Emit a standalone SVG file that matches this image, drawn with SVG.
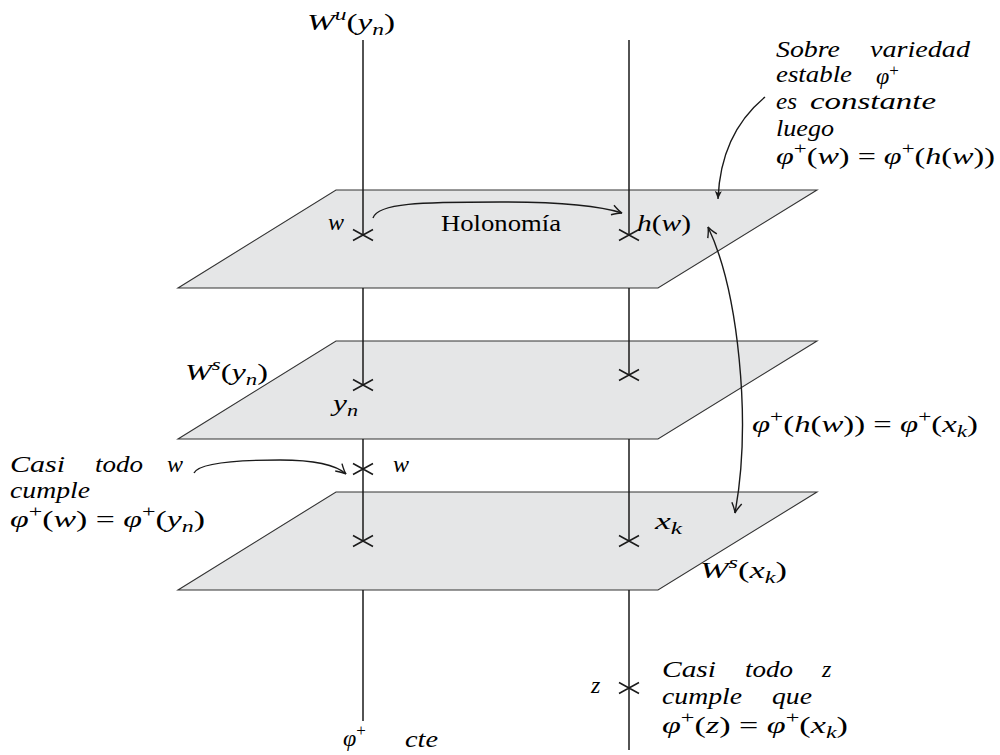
<svg xmlns="http://www.w3.org/2000/svg" width="1000" height="755" viewBox="0 0 1000 755">
<style>
.plane{fill:#e5e6e7;stroke:#333;stroke-width:1.1}
.ln{stroke:#1a1a1a;stroke-width:1.5;fill:none}
.x{stroke:#1a1a1a;stroke-width:1.5;fill:none}
.arr{stroke:#1a1a1a;stroke-width:1.4;fill:none}
.m{font-family:"Liberation Serif","Times New Roman",serif;font-size:24px;font-style:italic;fill:#000}
.r{font-style:normal}
.sup{font-style:normal;font-size:17px}
.sub{font-size:17px}
</style>
<defs>
<marker id="open" markerUnits="userSpaceOnUse" markerWidth="20" markerHeight="20" refX="0" refY="0" orient="auto-start-reverse" overflow="visible">
<path d="M-10,-5 C-6,-2.5 -2.5,-0.6 0,0 C-2.5,0.6 -6,2.5 -10,5" fill="none" stroke="#1a1a1a" stroke-width="1.4"/>
</marker>
<marker id="solid" markerUnits="userSpaceOnUse" markerWidth="20" markerHeight="20" refX="0" refY="0" orient="auto" overflow="visible">
<path d="M-8,-3.5 L0,0 L-8,3.5 L-6,0 Z" fill="#1a1a1a"/>
</marker>
</defs>

<g id="plane1"><polygon class="plane" points="336,190 817,190 658,288 178,288"/></g>
<g id="plane2"><polygon class="plane" points="336,341 817,341 658,439 178,439"/></g>
<g id="plane3"><polygon class="plane" points="336,492 817,492 658,590 178,590"/></g>

<g id="connectors">
<g id="Wu-left">
<line class="ln" x1="363" y1="40" x2="363" y2="235"/>
<line class="ln" x1="363" y1="288" x2="363" y2="385"/>
<line class="ln" x1="363" y1="439" x2="363" y2="541"/>
<line class="ln" x1="363" y1="590" x2="363" y2="721"/>
</g>
<g id="Wu-right">
<line class="ln" x1="629" y1="40" x2="629" y2="235"/>
<line class="ln" x1="629" y1="288" x2="629" y2="375"/>
<line class="ln" x1="629" y1="439" x2="629" y2="541"/>
<line class="ln" x1="629" y1="590" x2="629" y2="750"/>
</g>
<path class="arr" d="M373,218 C378,203 420,202 500,202 C560,202 600,206 622,213" marker-end="url(#open)"/>
<path class="arr" d="M765,97 C742,116 720,148 718,199" marker-end="url(#solid)"/>
<path class="arr" d="M708,227 C738,290 752,420 735,513" marker-start="url(#open)" marker-end="url(#open)"/>
<path class="arr" d="M194,473 C200,461 250,460 280,460 C310,460 335,464 346,474" marker-end="url(#open)"/>
</g>

<g id="crosses">
<path class="x" d="M353,229.5 L373,240.5 M353,240.5 L373,229.5"/>
<path class="x" d="M619,229.5 L639,240.5 M619,240.5 L639,229.5"/>
<path class="x" d="M353,379.5 L373,390.5 M353,390.5 L373,379.5"/>
<path class="x" d="M619,369.5 L639,380.5 M619,380.5 L639,369.5"/>
<path class="x" d="M353,463.5 L373,474.5 M353,474.5 L373,463.5"/>
<path class="x" d="M353,535.5 L373,546.5 M353,546.5 L373,535.5"/>
<path class="x" d="M619,535.5 L639,546.5 M619,546.5 L639,535.5"/>
<path class="x" d="M619,682.5 L639,693.5 M619,693.5 L639,682.5"/>
</g>

<g id="labels">
<text class="m" x="307" y="30" textLength="88" lengthAdjust="spacingAndGlyphs">W<tspan class="sub" dy="-10">u</tspan><tspan class="r" dy="10">(</tspan>y<tspan class="sub" dy="5">n</tspan><tspan class="r" dy="-5">)</tspan></text>

<text class="m" x="776" y="57" textLength="64" lengthAdjust="spacingAndGlyphs">Sobre</text>
<text class="m" x="870" y="57" textLength="100" lengthAdjust="spacingAndGlyphs">variedad</text>
<text class="m" x="776" y="82" textLength="76" lengthAdjust="spacingAndGlyphs">estable</text>
<text class="m" x="876" y="84">φ<tspan class="sup" dy="-8">+</tspan></text>
<text class="m" x="776" y="109" textLength="21" lengthAdjust="spacingAndGlyphs">es</text>
<text class="m" x="810" y="109" textLength="126" lengthAdjust="spacingAndGlyphs">constante</text>
<text class="m" x="776" y="136" textLength="58" lengthAdjust="spacingAndGlyphs">luego</text>
<text class="m" x="776" y="164" textLength="219" lengthAdjust="spacingAndGlyphs">φ<tspan class="sup" dy="-10">+</tspan><tspan class="r" dy="10">(</tspan>w<tspan class="r">) = </tspan>φ<tspan class="sup" dy="-10">+</tspan><tspan class="r" dy="10">(</tspan>h<tspan class="r">(</tspan>w<tspan class="r">))</tspan></text>

<text class="m" x="328" y="230">w</text>
<text class="m r" x="441" y="231" textLength="120" lengthAdjust="spacingAndGlyphs">Holonomía</text>
<text class="m" x="637" y="231" textLength="54" lengthAdjust="spacingAndGlyphs">h<tspan class="r">(</tspan>w<tspan class="r">)</tspan></text>

<text class="m" x="185" y="380" textLength="83" lengthAdjust="spacingAndGlyphs">W<tspan class="sub" dy="-10">s</tspan><tspan class="r" dy="10">(</tspan>y<tspan class="sub" dy="5">n</tspan><tspan class="r" dy="-5">)</tspan></text>
<text class="m" x="333" y="411" textLength="25" lengthAdjust="spacingAndGlyphs">y<tspan class="sub" dy="5">n</tspan></text>

<text class="m" x="752" y="432" textLength="226" lengthAdjust="spacingAndGlyphs">φ<tspan class="sup" dy="-10">+</tspan><tspan class="r" dy="10">(</tspan>h<tspan class="r">(</tspan>w<tspan class="r">)) = </tspan>φ<tspan class="sup" dy="-10">+</tspan><tspan class="r" dy="10">(</tspan>x<tspan class="sub" dy="5">k</tspan><tspan class="r" dy="-5">)</tspan></text>

<text class="m" x="10" y="472" textLength="55" lengthAdjust="spacingAndGlyphs">Casi</text>
<text class="m" x="95" y="472" textLength="48" lengthAdjust="spacingAndGlyphs">todo</text>
<text class="m" x="167" y="472">w</text>
<text class="m" x="10" y="498" textLength="80" lengthAdjust="spacingAndGlyphs">cumple</text>
<text class="m" x="10" y="527" textLength="195" lengthAdjust="spacingAndGlyphs">φ<tspan class="sup" dy="-10">+</tspan><tspan class="r" dy="10">(</tspan>w<tspan class="r">) = </tspan>φ<tspan class="sup" dy="-10">+</tspan><tspan class="r" dy="10">(</tspan>y<tspan class="sub" dy="5">n</tspan><tspan class="r" dy="-5">)</tspan></text>
<text class="m" x="393" y="472">w</text>

<text class="m" x="655" y="529" textLength="27" lengthAdjust="spacingAndGlyphs">x<tspan class="sub" dy="5">k</tspan></text>
<text class="m" x="700" y="578" textLength="87" lengthAdjust="spacingAndGlyphs">W<tspan class="sub" dy="-10">s</tspan><tspan class="r" dy="10">(</tspan>x<tspan class="sub" dy="5">k</tspan><tspan class="r" dy="-5">)</tspan></text>

<text class="m" x="591" y="693">z</text>
<text class="m" x="662" y="677" textLength="54" lengthAdjust="spacingAndGlyphs">Casi</text>
<text class="m" x="745" y="677" textLength="48" lengthAdjust="spacingAndGlyphs">todo</text>
<text class="m" x="822" y="677">z</text>
<text class="m" x="662" y="704" textLength="80" lengthAdjust="spacingAndGlyphs">cumple</text>
<text class="m" x="772" y="704" textLength="40" lengthAdjust="spacingAndGlyphs">que</text>
<text class="m" x="662" y="733" textLength="186" lengthAdjust="spacingAndGlyphs">φ<tspan class="sup" dy="-10">+</tspan><tspan class="r" dy="10">(</tspan>z<tspan class="r">) = </tspan>φ<tspan class="sup" dy="-10">+</tspan><tspan class="r" dy="10">(</tspan>x<tspan class="sub" dy="5">k</tspan><tspan class="r" dy="-5">)</tspan></text>

<text class="m" x="343" y="746">φ<tspan class="sup" dy="-10">+</tspan></text>
<text class="m" x="405" y="747" textLength="33" lengthAdjust="spacingAndGlyphs">cte</text>
</g>
</svg>
